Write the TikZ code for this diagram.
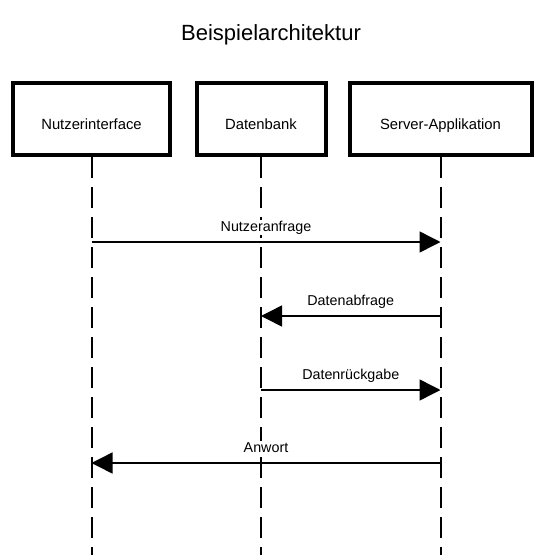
\documentclass[tikz,border=0pt]{standalone}
\usepackage{fontspec}
\setmainfont{Liberation Sans}
\usetikzlibrary{arrows.meta}

\begin{document}
\begin{tikzpicture}[x=1pt, y=-1pt,
  participant/.style={rectangle, draw, line width=4pt, minimum height=72pt, inner sep=0pt,
    text height=21pt, text depth=0pt, font=\fontsize{14.8}{17}\selectfont},
  lifeline/.style={line width=2pt, dash pattern=on 21pt off 9pt},
  message/.style={line width=1.5pt, -{Triangle[length=21pt,width=21pt]}},
  msglabel/.style={anchor=base, yshift=11pt, fill=white, inner sep=1pt, font=\fontsize{14.3}{16}\selectfont}]

\useasboundingbox (0,0) rectangle (541,555);

% Title
\node (title) [anchor=base, font=\fontsize{22}{26}\selectfont] at (271,40) {Beispielarchitektur};

% Nodes
\node (ui) [participant, minimum width=157pt] at (91.5,119) {Nutzerinterface};
\node (db) [participant, minimum width=129pt] at (261,119) {Datenbank};
\node (app) [participant, minimum width=182pt] at (440.5,119) {Server-Applikation};

% Lifelines
\coordinate (uiend) at (ui.south |- 0,556);
\coordinate (dbend) at (db.south |- 0,556);
\coordinate (append) at (app.south |- 0,556);
\draw[lifeline] (ui.south) -- (uiend);
\draw[lifeline] (db.south) -- (dbend);
\draw[lifeline] (app.south) -- (append);

% Message points
\coordinate (ui1) at (ui.south |- 0,242);
\coordinate (app1) at (app.south |- 0,242);
\coordinate (app2) at (app.south |- 0,316);
\coordinate (db2) at (db.south |- 0,316);
\coordinate (db3) at (db.south |- 0,390);
\coordinate (app3) at (app.south |- 0,390);
\coordinate (app4) at (app.south |- 0,463);
\coordinate (ui4) at (ui.south |- 0,463);

% Arrows
\draw[message] (ui1) -- node[msglabel] {Nutzeranfrage} (app1);
\draw[message] (app2) -- node[msglabel] {Datenabfrage} (db2);
\draw[message] (db3) -- node[msglabel] {Datenrückgabe} (app3);
\draw[message] (app4) -- node[msglabel] {Anwort} (ui4);

\end{tikzpicture}
\end{document}
